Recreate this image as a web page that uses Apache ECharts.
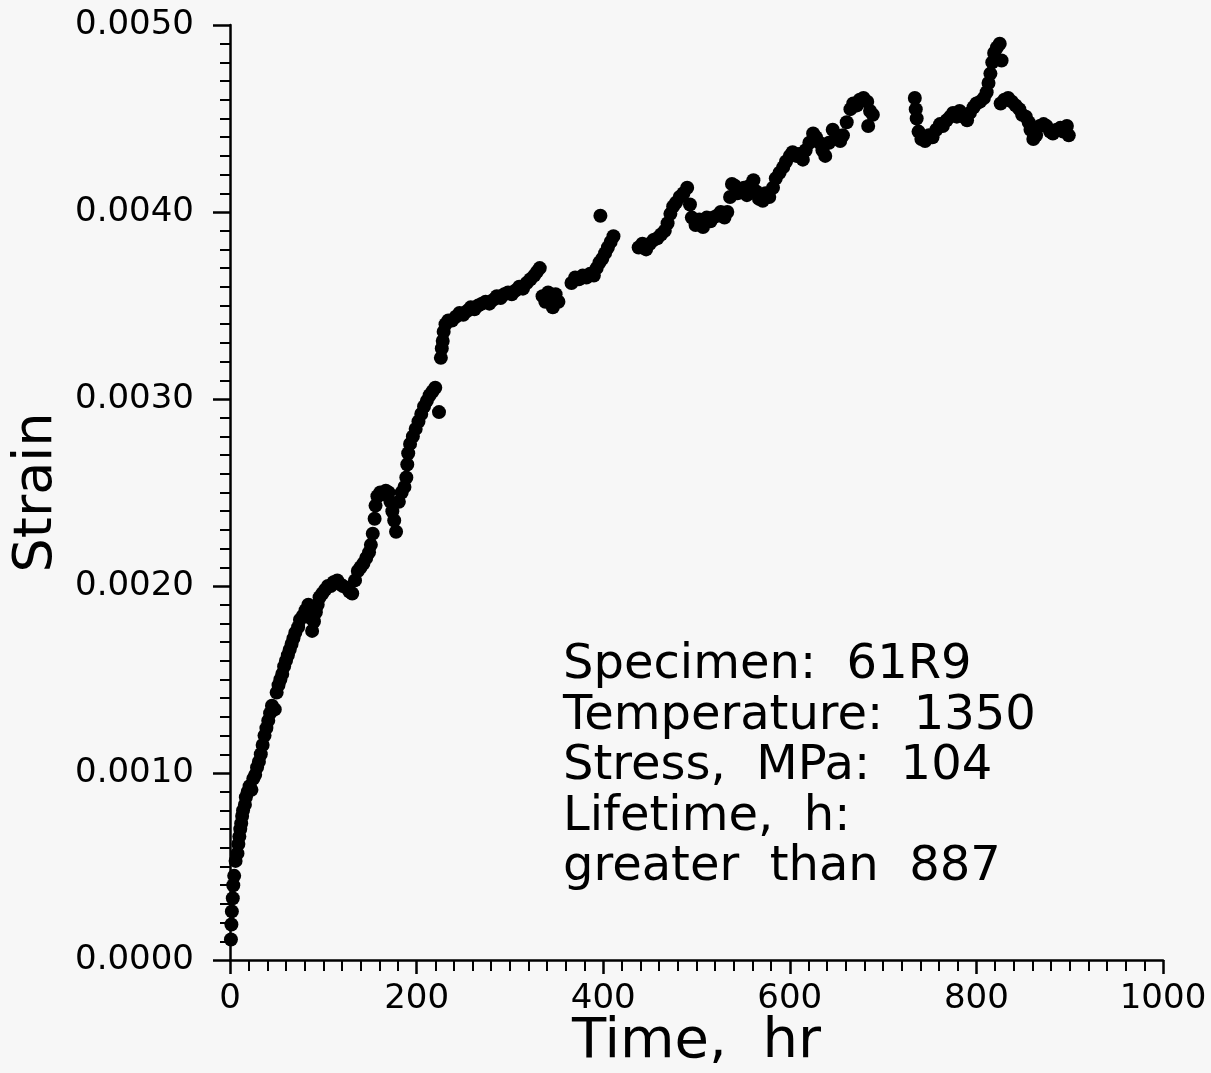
<!DOCTYPE html>
<html>
<head>
<meta charset="utf-8">
<script src="https://cdn.jsdelivr.net/npm/echarts@6/dist/echarts.min.js"></script>
<style>
html,body{margin:0;padding:0;background:#f7f7f7;}
#chart{width:1211px;height:1073px;}
</style>
</head>
<body>
<div id="chart"></div>
<script>
// Time (hr) values of the plotted readings
const timeHr = [
1,1.5,2,3,3.5,4.5,6,8,
9,10,11,12,13,14,16,17,19,21,23,25,27,29,31,33,35,37,39,41,43,45,48,50,52,54,56,58,60,62,64,66,68,70,73,75,78,81,84,86,88,90,92,94,96,99,102,105,108,111,115,118,121,125,128,131,134,137,140,143,146,149,151,153,155,156,158,161,164,167,170,172,174,176,178,181,184,187,189,190,191,193,196,199,202,205,208,211,214,217,220,224,
226,227,228,229,231,234,238,242,246,250,254,258,262,266,270,274,278,282,286,290,294,298,302,306,310,314,318,322,326,329,332,
335,338,341,344,346,349,352,
366,370,374,378,382,386,390,393,396,399,402,405,408,411,397,
438,442,446,450,454,458,462,466,469,472,475,478,482,486,490,493,495,499,503,507,511,515,518,522,526,530,533,536,538,541,544,547,551,554,557,561,564,567,571,574,578,582,585,589,593,596,600,603,607,610,614,617,621,625,628,632,635,638,642,646,650,654,657,661,665,668,672,675,679,683,686,689,684,
734,735,736,738,741,745,749,753,757,761,764,768,772,775,779,782,786,790,793,797,800,804,808,811,813,815,817,819,822,825,827,
826,830,834,838,842,846,849,853,856,858,861,864,868,872,875,879,882,886,890,893,897,899
];
// Strain values of the plotted readings (same order)
const strain = [
0.00011,0.00019,0.00026,0.00033,0.00040,0.00045,0.00053,0.00057,
0.00062,0.00066,0.00070,0.00073,0.00077,0.00080,0.00083,0.00087,0.00090,0.00093,0.00091,0.00097,0.00099,0.00103,0.00106,0.00110,0.00115,0.00120,0.00124,0.00128,0.00132,0.00136,0.00134,0.00143,0.00147,0.00150,0.00153,0.00157,0.00160,0.00163,0.00166,0.00169,0.00172,0.00175,0.00178,0.00182,0.00184,0.00187,0.00190,0.00183,0.00176,0.00181,0.00186,0.00190,0.00194,0.00196,0.00198,0.00200,0.00200,0.00202,0.00203,0.00201,0.00200,0.00199,0.00197,0.00196,0.00203,0.00208,0.00210,0.00212,0.00215,0.00218,0.00222,0.00228,0.00236,0.00243,0.00248,0.00250,0.00249,0.00251,0.00250,0.00245,0.00240,0.00235,0.00229,0.00245,0.00250,0.00253,0.00258,0.00265,0.00271,0.00276,0.00280,0.00284,0.00288,0.00292,0.00296,0.00299,0.00302,0.00304,0.00306,0.00293,
0.00322,0.00327,0.00331,0.00336,0.00340,0.00342,0.00342,0.00344,0.00346,0.00345,0.00347,0.00349,0.00348,0.00350,0.00351,0.00352,0.00351,0.00353,0.00355,0.00354,0.00356,0.00357,0.00356,0.00358,0.00360,0.00359,0.00362,0.00364,0.00366,0.00368,0.00370,
0.00355,0.00352,0.00357,0.00354,0.00349,0.00356,0.00352,
0.00362,0.00365,0.00364,0.00366,0.00365,0.00367,0.00366,0.00370,0.00373,0.00375,0.00378,0.00381,0.00384,0.00387,0.00398,
0.00381,0.00383,0.00380,0.00383,0.00385,0.00386,0.00388,0.00390,0.00394,0.00399,0.00403,0.00405,0.00408,0.00410,0.00413,0.00404,0.00397,0.00393,0.00396,0.00392,0.00397,0.00395,0.00397,0.00398,0.00400,0.00397,0.00400,0.00408,0.00415,0.00414,0.00410,0.00411,0.00413,0.00409,0.00414,0.00417,0.00411,0.00407,0.00406,0.00410,0.00408,0.00413,0.00418,0.00421,0.00424,0.00427,0.00430,0.00432,0.00430,0.00431,0.00428,0.00433,0.00437,0.00442,0.00440,0.00437,0.00433,0.00430,0.00437,0.00444,0.00441,0.00438,0.00441,0.00448,0.00455,0.00458,0.00457,0.00460,0.00461,0.00459,0.00454,0.00452,0.00446,
0.00461,0.00455,0.00450,0.00443,0.00439,0.00438,0.00441,0.00440,0.00444,0.00447,0.00446,0.00449,0.00451,0.00453,0.00451,0.00454,0.00451,0.00449,0.00453,0.00456,0.00458,0.00459,0.00461,0.00464,0.00469,0.00474,0.00480,0.00485,0.00488,0.00490,0.00481,
0.00458,0.00460,0.00461,0.00459,0.00457,0.00455,0.00452,0.00451,0.00448,0.00444,0.00439,0.00441,0.00446,0.00447,0.00446,0.00443,0.00442,0.00444,0.00445,0.00443,0.00446,0.00441
];
const xTicks = [0, 200, 400, 600, 800, 1000];
const yTicks = [0.0000, 0.0010, 0.0020, 0.0030, 0.0040, 0.0050];
const infoLines = [
  "Specimen:  61R9",
  "Temperature:  1350",
  "Stress,  MPa:  104",
  "Lifetime,  h:",
  "greater  than  887"
];

const FONT = "'DejaVu Sans', 'Liberation Sans', sans-serif";
const points = timeHr.map((t, i) => [t, strain[i]]);

const chart = echarts.init(document.getElementById('chart'), null, {renderer: 'canvas'});
chart.setOption({
  backgroundColor: '#f7f7f7',
  animation: false,
  grid: {left: 230, top: 25, width: 933, height: 935, containLabel: false, outerBoundsMode: 'none'},
  xAxis: {
    type: 'value',
    min: xTicks[0], max: xTicks[xTicks.length - 1], interval: 200,
    name: 'Time,  hr', nameLocation: 'middle', nameGap: 54, nameMoveOverlap: false,
    nameTextStyle: {fontFamily: FONT, fontSize: 56, color: '#000'},
    axisLine: {show: true, onZero: false, lineStyle: {color: '#000', width: 2.5}},
    axisTick: {show: true, length: 14, inside: false, lineStyle: {color: '#000', width: 2.5}},
    minorTick: {show: true, splitNumber: 10, length: 11, lineStyle: {color: '#000', width: 2}},
    splitLine: {show: false},
    axisLabel: {fontFamily: FONT, fontSize: 34, color: '#000', margin: 22,
      formatter: v => xTicks.includes(v) ? String(v) : ''}
  },
  yAxis: {
    type: 'value',
    min: yTicks[0], max: yTicks[yTicks.length - 1], interval: 0.001,
    name: 'Strain', nameLocation: 'middle', nameGap: 162,
    nameTextStyle: {fontFamily: FONT, fontSize: 54, color: '#000'},
    axisLine: {show: true, onZero: false, lineStyle: {color: '#000', width: 2.5}},
    axisTick: {show: true, length: 17, inside: false, lineStyle: {color: '#000', width: 2.5}},
    minorTick: {show: true, splitNumber: 10, length: 10, lineStyle: {color: '#000', width: 2}},
    splitLine: {show: false},
    axisLabel: {fontFamily: FONT, fontSize: 34, color: '#000', margin: 36,
      formatter: v => v.toFixed(4)}
  },
  graphic: infoLines.map((s, i) => ({
    type: 'text', x: 563, y: 666 + i * 50.5,
    style: {text: s, fontFamily: FONT, fontSize: 48, fill: '#000', verticalAlign: 'middle'}
  })),
  series: [{
    type: 'scatter',
    data: points,
    symbol: 'circle',
    symbolSize: 14,
    itemStyle: {color: '#000', opacity: 1},
    silent: true
  }]
});
</script>
</body>
</html>
